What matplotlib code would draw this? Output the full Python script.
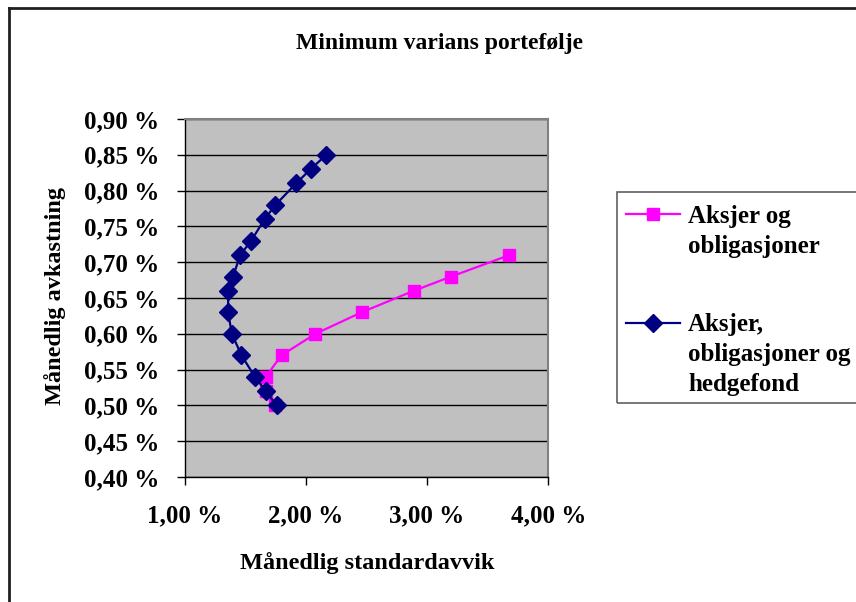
import matplotlib
matplotlib.use("Agg")
import matplotlib.pyplot as plt
from matplotlib.lines import Line2D
from matplotlib.ticker import FixedLocator, FuncFormatter

# Monthly standard deviation (%) and monthly return (%) per portfolio
stocks_bonds_std = [1.75, 1.67, 1.67, 1.80, 2.08, 2.46, 2.89, 3.20, 3.68]
stocks_bonds_ret = [0.50, 0.52, 0.54, 0.57, 0.60, 0.63, 0.66, 0.68, 0.71]

stocks_bonds_hf_std = [1.76, 1.67, 1.58, 1.47, 1.39, 1.36, 1.36, 1.40, 1.46,
                       1.55, 1.66, 1.75, 1.92, 2.04, 2.17]
stocks_bonds_hf_ret = [0.50, 0.52, 0.54, 0.57, 0.60, 0.63, 0.66, 0.68, 0.71,
                       0.73, 0.76, 0.78, 0.81, 0.83, 0.85]

x_ticks = [1.0, 2.0, 3.0, 4.0]
y_ticks = [0.40, 0.45, 0.50, 0.55, 0.60, 0.65, 0.70, 0.75, 0.80, 0.85, 0.90]

title = "Minimum varians portefølje"
x_label = "Månedlig standardavvik"
y_label = "Månedlig avkastning"
label_sb = ["Aksjer og", "obligasjoner"]
label_sbh = ["Aksjer,", "obligasjoner og", "hedgefond"]

PINK = "#FF00FF"
NAVY = "#000080"

plt.rcParams["font.family"] = ["Liberation Serif", "DejaVu Serif"]
plt.rcParams["font.weight"] = "bold"

W, H = 856, 602
fig = plt.figure(figsize=(W / 100, H / 100), dpi=100)
fig.patch.set_facecolor("white")

# Chart-area frame (top and left edges visible)
fig.add_artist(Line2D([9 / W, 9 / W], [0, 1 - 8 / H], transform=fig.transFigure,
                      color="#202020", lw=2))
fig.add_artist(Line2D([9 / W, 1], [1 - 8 / H, 1 - 8 / H], transform=fig.transFigure,
                      color="#202020", lw=2))

left, right, top, bottom = 184.5, 548.3, 119, 477
ax = fig.add_axes([left / W, 1 - bottom / H, (right - left) / W, (bottom - top) / H])
ax.set_facecolor("#C0C0C0")

ax.set_xlim(1.0, 4.0)
ax.set_ylim(0.40, 0.90)
ax.xaxis.set_major_locator(FixedLocator(x_ticks))
ax.yaxis.set_major_locator(FixedLocator(y_ticks))
ax.xaxis.set_major_formatter(FuncFormatter(lambda v, p: f"{v:.2f} %".replace(".", ",")))
ax.yaxis.set_major_formatter(FuncFormatter(lambda v, p: f"{v:.2f} %".replace(".", ",")))

ax.grid(axis="y", color="#000000", lw=1.0, zorder=1)
ax.set_axisbelow(True)
for s in ("top", "right"):
    ax.spines[s].set_color("#808080")
    ax.spines[s].set_linewidth(1.5)
for s in ("left", "bottom"):
    ax.spines[s].set_color("#000000")
    ax.spines[s].set_linewidth(1.0)
ax.tick_params(direction="out", length=6, width=1, color="black",
               labelsize=18, pad=12)
ax.tick_params(axis="x", pad=14)
for lab in ax.get_xticklabels() + ax.get_yticklabels():
    lab.set_fontweight("bold")

ax.plot(stocks_bonds_std, stocks_bonds_ret, color=PINK, lw=1.6, marker="s",
        markersize=9, markerfacecolor=PINK, markeredgecolor=PINK, zorder=3,
        clip_on=False)
ax.plot(stocks_bonds_hf_std, stocks_bonds_hf_ret, color=NAVY, lw=1.6, marker="D",
        markersize=9, markerfacecolor=NAVY, markeredgecolor=NAVY, zorder=4,
        clip_on=False)

fig.text(440 / W, 1 - 44 / H, title, ha="center", va="center",
         fontsize=17, fontweight="bold")
fig.text(367 / W, 1 - 563 / H, x_label, ha="center", va="center",
         fontsize=17.5, fontweight="bold")
fig.text(55 / W, 1 - 296 / H, y_label, ha="center", va="center",
         rotation=90, fontsize=17.5, fontweight="bold")

# Legend box
fig.add_artist(plt.Rectangle((617 / W, 1 - 403 / H), (W + 10 - 617) / W, (403 - 192) / H,
                             transform=fig.transFigure, fill=False,
                             edgecolor="#606060", lw=1.2, clip_on=False))
legend_rows = [(PINK, "s", 9, 214, label_sb), (NAVY, "D", 9, 323, label_sbh)]
for color, mk, ms, yc, lines in legend_rows:
    fig.add_artist(Line2D([626 / W, 680 / W], [1 - yc / H] * 2,
                          transform=fig.transFigure, color=color, lw=1.6))
    fig.add_artist(Line2D([653 / W], [1 - yc / H], transform=fig.transFigure,
                          marker=mk, markersize=ms, color=color, lw=0))
    for i, line in enumerate(lines):
        fig.text(688 / W, 1 - (yc + 2 + 30 * i) / H, line, ha="left", va="center",
                 fontsize=18, fontweight="bold")

fig.savefig("out.png", dpi=100)
